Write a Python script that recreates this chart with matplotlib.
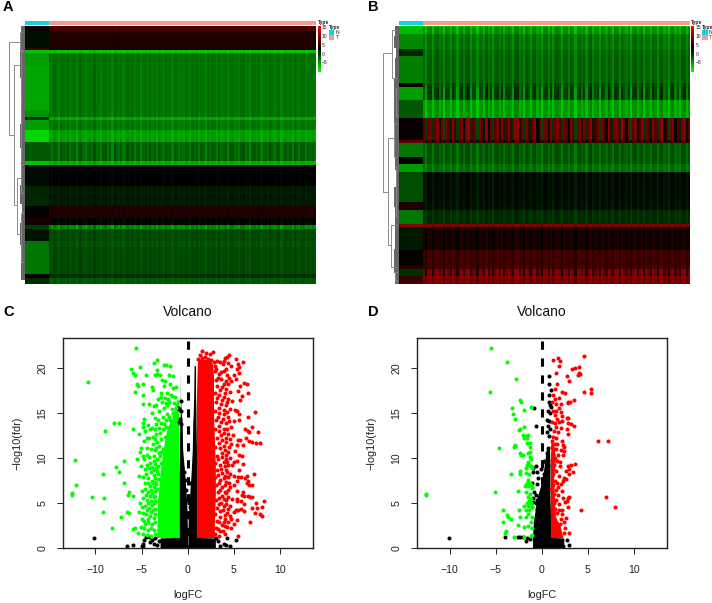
import numpy as np
import matplotlib
matplotlib.use('Agg')
import matplotlib.pyplot as plt
from matplotlib.colors import LinearSegmentedColormap
from matplotlib.patches import Rectangle

W, H = 712, 603
plt.rcParams['font.family'] = ['Liberation Sans', 'DejaVu Sans']

# heatmaps: row count of each band, then level of normal and tumour samples
a_rows = [6, 17, 2, 3, 13, 45, 7, 3, 10, 12, 20, 4, 21, 20, 12, 7, 4, 12, 7, 27, 4, 6]
a_norm = [3.5, 2.2, 6, -7, -5, -5.5, -4.5, 0.5, -5, -8, -1.5, -7, 2.4, 1, 3, 4, 0, 2, -3, -3, 3, 1]
a_tumor = [6.5, 4.6, 4, -7, -2.8, -2.9, -3, -5.5, -3.2, -5.2, -2.2, -6, 2.9, 1.6, 4.6, 2.6, -4, -0.8, -1.2, -0.8, 0.5, -1.5]
a_contrast = [.2, .2, .3, .8, .8, .9, .9, 1.2, 1.2, 1.2, 1.8, 1.2, .3, .5, .3, .6, 2.2, .8, .8, .7, .5, .8]
a_columns = [.2, -.4, .5, .1, -.7, .6, .2, -.2, .8, -.5, .1, .3, -.8, .4, .7, -.1, -.6, .2, .5, -.3,
             .9, -.2, .1, -.7, .3, .6, -.4, .2, -.9, .8, .1, -.3, .5, -.6, .3, .7, -.1, .4, -.5, .2,
             .6, -.8, .1, .4, -.3, .7, -.2, .3, -.6, .5, .1, -.4, .6, -.1, .3, -.7, .4, .2, -.5, .1,
             -.3, .5, .2, -.6, .4, -.1, .7, -.5, .3, .1, -.8, .6, -.2, .4, .2, -.6, .8, -.3, .1, .5,
             -.7, .3, .6, -.2, .1, -.5, .4, .7, -.4, .2, -.9, .5, .3, -.1, .6, -.6, .2, .4, -.3, .7,
             .1, -.5, .3, .6, -.7, .2, .5, -.2, .4, -.6, .8, .1, -.4, .3, .6, -.5, .2, -.1, .4, -.3]

b_rows = [2, 7, 15, 7, 27, 4, 13, 18, 22, 3, 13, 7, 8, 30, 8, 14, 3, 23, 15, 4, 7, 8]
b_norm = [-7, -6.5, -4, 1, -3.5, 4, -5, -1.5, 3.5, 8, -3, 3.5, -5, -1, 4.5, -3, 10, 1.8, 3.2, 5, 0.5, 6]
b_tumor = [-7, -5.2, -3.2, -2.6, -2.4, -1.8, -1.8, -5.4, 5.4, 5, -1.8, -1.8, -3, 2.2, 2, 0.6, 9.5, 4, 6, 6, 7.5, 9]
b_contrast = [2, 2, 1.4, 1.4, 1.4, 2, 3.5, 1.8, 6, 3, 1.4, 1.4, 1.2, .7, .8, .8, .4, .8, .8, 1, 3.5, 1.2]
b_columns = [.3, -.9, .5, .6, -.8, .4, .7, -.2, .5, -1, .6, .3, -.7, .8, .2, -.9, .5, .7, -.4, .6,
             .9, -.8, .3, .5, -1, .7, .2, -.6, .9, -.3, .5, -.9, .4, .6, -.2, .8, -.7, .3, .7, .1,
             -.8, .9, .8, -.3, .4, -.9, .6, .2, -.7, .5, .8, -.4, .3, -1, .6, .5, -.6, .7, -.8, .4,
             .7, .2, -.9, .6, .4, -.5, .8, .3, -1, .5, .7, -.2, .6, -.8, .4, .9, -.6, .2, .5, -.9,
             .7, .3, -.4, .8, .1, -.8, .6, .5, -.7, .9, .2, -.3, .6, -1, .4, .7, -.5, .3, .8, -.9,
             .5, .2, -.6, .7, .4, -.8, .6, .9, -.3, .2, -1, .5, .7, -.4, .3, -.7, .6, .8, -.6, .4]

legend_ticks = [15, 10, 5, 0, -5]
annot_colors = {'N': '#1ACFDC', 'T': '#F99A90'}

# dendrogram merges: height, top row, bottom row, height of top and bottom child
a_merges = [(16, 16, 111, 5, 11), (11, 40, 182, 3.5, 8.3), (8.3, 154, 211, 3.5, 4), (5, 6, 24, 2.5, 2.5),
            (3.5, 25, 137, 2, 2), (4, 190, 240, 2, 2), (3.5, 140, 170, 2, 2)]
b_merges = [(16.3, 27, 166, 7.3, 10.7), (7.3, 4, 52, 3, 3), (10.7, 112, 219, 4.7, 8), (8, 199, 241, 3, 3),
            (4.7, 97, 131, 2.5, 2.5), (3, 62, 90, 2, 2), (3, 140, 190, 2, 2), (3.5, 246, 255, 2, 2)]
fringe_rows = [0, 20, 24, 40, 65, 90, 110, 137, 150, 172, 190, 210, 235, 258]
a_fringe = [4, 3.5, 5, 4.5, 3, 4, 5, 4, 3.5, 4.5, 3, 5, 4, 3.5]
b_fringe = [4, 4.5, 3, 4, 4.5, 5, 4, 3.5, 3, 4.5, 4, 3.5, 5, 4]

# volcano C
c_green = [(-5.6, 22.3), (-10.8, 18.5), (-6.1, 19.9), (-5.9, 19.5), (-5.2, 20.1), (-5.7, 19.2), (-3.3, 20.9), (-3.7, 20.6),
           (-2.6, 20.4), (-2.3, 20.4), (-1.9, 20.2), (-3.3, 19.8), (-3.3, 19.4), (-4.5, 19.2), (-3.5, 19.2), (-3, 19.2),
           (-2.8, 18.7), (-2.5, 18.6), (-2, 19.3), (-1.6, 19.1), (-1.9, 18.2), (-1.6, 17.8), (-1.3, 17.9), (-5.5, 18.3),
           (-5.4, 18), (-4.9, 18.2), (-5.7, 17.4), (-3.9, 17.9), (-3.8, 17.6), (-4.9, 17), (-2.6, 18), (-2.9, 17.3),
           (-8, 13.9), (-7.5, 13.9), (-9, 13), (-12.2, 9.8), (-7.8, 9), (-7.4, 8.5), (-6.9, 9.7), (-9.2, 8.2), (-6.9, 7.3),
           (-12.1, 7), (-12.5, 6.1), (-12.6, 5.9), (-10.4, 5.7), (-9.1, 5.6), (-9.2, 4), (-7.2, 3.5), (-8.2, 2.2), (-6.6, 4),
           (-6.4, 3.9), (-6.4, 6.2), (-6.5, 5.9), (-5.9, 5.8), (-5.7, 2.2), (-5.9, 2.1), (-5.9, 13.3), (-5.3, 12.7),
           (-5.2, 10.7), (-4.8, 16), (-4.2, 16), (-3.7, 15.8), (-3.2, 16.6), (-2.9, 16.8), (-2.5, 16.7), (-2.1, 16.6),
           (-1.7, 16.9), (-1.4, 16.8), (-3.9, 15), (-4.7, 14.4), (-4.8, 13.9), (-4.9, 13.5), (-4.3, 13.7), (-3.6, 14.5),
           (-3.1, 15.3), (-2.6, 15.6), (-2.2, 15.9), (-1.7, 15.5), (-3.2, 14.2), (-2.7, 14.6), (-2.2, 14.9), (-1.9, 14.2),
           (-3.1, 13.4), (-2.7, 13.2), (-2.3, 13.5), (-4.6, 13), (-4.1, 13.3), (-3.9, 13.4), (-3.4, 12.7), (-4.2, 12.3),
           (-4.7, 11.9), (-5.1, 11.1), (-3.8, 11.6), (-3.3, 11.8), (-2.9, 12.1), (-2.5, 12.4), (-4.4, 11.1), (-3.6, 10.9),
           (-3.1, 10.6), (-2.7, 11), (-4.9, 10.2), (-4.7, 9.9), (-5.5, 9.9), (-4.2, 10.1), (-3.7, 9.7), (-3.3, 9.9),
           (-2.9, 9.5), (-5.1, 9.1), (-4.4, 9.2), (-3.9, 9), (-3.4, 8.9), (-4, 8.5), (-4.5, 8.3), (-5.3, 8), (-4.9, 7.9),
           (-3.7, 8.1), (-3.2, 8.3), (-4.3, 7.8), (-3.9, 7.5), (-3.5, 7.4), (-3.2, 7.7), (-4.6, 7.2), (-4.1, 6.9),
           (-3.7, 6.8), (-3.3, 6.6), (-5, 6.4), (-4.6, 6.6), (-4.3, 6.2), (-3.9, 6.1), (-3.5, 5.8), (-4.8, 5.6), (-4.4, 5.4),
           (-4, 5.3), (-3.7, 5), (-5.2, 5), (-5, 4.6), (-4.6, 4.7), (-4.2, 4.5), (-3.8, 4.3), (-5.3, 4), (-4.9, 3.9),
           (-4.5, 3.8), (-4.1, 3.6), (-3.6, 3.8), (-5, 3.3), (-4.7, 3), (-4.3, 2.9), (-3.9, 2.7), (-5.1, 2.4), (-4.7, 2.2),
           (-4.3, 2), (-5.4, 1.7), (-4.9, 1.6), (-4.4, 1.5), (-4, 1.4),
           (-1.8, 17), (-2.2, 17.2), (-2, 16.2), (-1.5, 16.1), (-2.4, 16.1), (-2.8, 16.2), (-3.4, 15.9), (-1.3, 15.6), (-1.6, 15),
           (-2, 14.6), (-2.4, 14.2), (-2.9, 13.9), (-3.4, 13.8), (-2.6, 13.8), (-3.6, 13.2), (-3.8, 12.4), (-3, 12.8), (-4.4, 12.2),
           (-3.5, 12.1), (-3.1, 11.4), (-4, 11), (-3.4, 11.1), (-2.9, 10.7), (-3.7, 10.3), (-4.4, 10.4), (-3, 10.2), (-4.1, 9.5),
           (-3.5, 9.4), (-3.2, 9.1), (-3.7, 8.7), (-4.2, 8.9), (-3.3, 8.6), (-4.6, 8.8), (-3.6, 7.8), (-3.4, 7.1), (-4.3, 7.3),
           (-3.8, 7.2), (-3.5, 6.4), (-4, 6.5), (-4.5, 5.9), (-3.7, 5.7), (-4.1, 5.8), (-3.5, 5.2), (-4.3, 5), (-3.9, 4.8),
           (-3.5, 4.4), (-4.4, 4.2), (-4, 4), (-3.7, 3.4), (-4.3, 3.3), (-3.6, 2.9), (-4, 2.3), (-3.7, 2), (-4.6, 2.7), (-3.6, 1.6)]
c_red = [(1.6, 21.9), (1.3, 21.5), (2, 21.7), (2.4, 21.6), (2.7, 21.8), (4.5, 21.5), (4.3, 21.2), (4, 21.1), (3.9, 20.8),
         (5.2, 21), (6, 20.7), (5.5, 20.5), (3.2, 20.8), (3.5, 20.7), (3.8, 20.5), (3, 20.3), (4.4, 20.6), (4.7, 20.2),
         (5.6, 20.1), (5.4, 19.9), (5.6, 19.5), (5, 19.3), (5.2, 18.8), (6.1, 18.4), (6.4, 18.2), (5.7, 18), (4.7, 18.6),
         (6.5, 17.2), (5.9, 16.9), (5.7, 16.5), (5.5, 17.5), (4.8, 16.4), (5.1, 15.4), (5.4, 15.3), (5.6, 14.9), (6.5, 14.6),
         (7.3, 15.1), (5.6, 14.2), (5, 14.1), (6.2, 13.2), (7, 13.5), (6.5, 13), (7.6, 12.9), (6.6, 12.9), (5.7, 12),
         (6.3, 12.2), (5.5, 12), (6.7, 11.9), (7, 11.8), (7.4, 11.7), (7.8, 11.7), (5.3, 11.5), (6, 11.5), (5.1, 10.8),
         (5.6, 10.4), (5.9, 10.2), (4.6, 10), (5, 9.6), (5.3, 9.7), (6, 9.4), (4.8, 9.3), (5.6, 8.7), (4.3, 8.5), (4.6, 8.2),
         (5, 8), (5.5, 7.9), (5.8, 7.9), (6.2, 7.8), (6.4, 8), (6.5, 7.5), (6.4, 7.2), (7, 7), (7.2, 8.2), (6.6, 7), (5.3, 7.5),
         (5, 7), (4.6, 6.8), (4.4, 6.5), (5.4, 6.4), (6, 6.2), (5.9, 5.9), (6.1, 5.8), (6.5, 5.8), (6.8, 5.7), (7, 5.7), (5.4, 5.5),
         (5.3, 5.2), (5.8, 5.3), (6.1, 4.9), (7.4, 5), (8.3, 5.3), (8.1, 4.6), (7.5, 4.5), (7, 4.5), (7.3, 3.9), (6.8, 2.9),
         (7.8, 3.8), (8.1, 3.6), (5.5, 4.3), (5.2, 4.2), (5.8, 4.4), (6.1, 4.1), (5, 4), (4.7, 3.3), (5.4, 3.1), (5, 2.7), (5.5, 1.4),
         (4.7, 2.2), (4, 2.5), (4, 1.6), (3, 19.7), (3.4, 19.4), (3.9, 19.7), (4.3, 19.3), (3.1, 18.7), (3.6, 18.8), (4.1, 18.6),
         (4.5, 18.9), (3.2, 18), (3.7, 17.9), (4.2, 17.7), (4.6, 17.4), (3, 17.2), (3.4, 17), (3.9, 16.8), (4.4, 16.6), (3.1, 16.2),
         (3.6, 16), (4.1, 15.9), (4.6, 15.5), (3, 15.3), (3.4, 15), (3.9, 14.9), (4.4, 14.6), (3.1, 14.2), (3.6, 14), (4.1, 13.9),
         (4.7, 13.5), (3, 13.3), (3.4, 13), (3.9, 12.8), (4.4, 12.7), (4.9, 12.6), (3.2, 12.2), (3.7, 12), (4.2, 11.8), (4.7, 11.6),
         (3, 11.3), (3.5, 11.1), (4, 10.9), (4.4, 10.7), (3.2, 10.3), (3.7, 10.1), (4.2, 9.9), (3, 9.5), (3.5, 9.3), (4, 9.1),
         (4.4, 9.3), (3.2, 8.7), (3.7, 8.4), (4, 8), (3, 7.9), (3.5, 7.6), (4.2, 7.4), (3.1, 7), (3.7, 6.8), (4, 6.3), (3.3, 6.2),
         (3.7, 5.8), (4.4, 5.7), (4.8, 5.5), (3.1, 5.4), (3.6, 5), (4.2, 4.9), (4.6, 4.7), (3.2, 4.5), (3.8, 4.2), (4.3, 3.9),
         (3, 3.8), (3.5, 3.5), (4, 3.2), (4.4, 2.9), (3.2, 3), (3.7, 2.6), (3.1, 2.3), (3.5, 1.9), (3, 1.6), (3.4, 1.4),
         (1.1, 21), (1.5, 21.1), (1.9, 21.2), (2.2, 21), (2.5, 20.9), (2.8, 20.7), (3.1, 19.9), (3.6, 19.6), (4.1, 19.9), (3.3, 18.9),
         (3.9, 18.3), (4.4, 18.2), (3.5, 17.6), (4, 17.3), (3.2, 16.7), (3.7, 16.5), (4.3, 16.2), (3.4, 15.6), (3.9, 15.4), (4.3, 15.1),
         (3.3, 14.6), (3.8, 14.4), (4.5, 14.1), (3.4, 13.6), (3.9, 13.3), (4.3, 13.2), (3.6, 12.6), (4.1, 12.3), (4.6, 12.1),
         (3.4, 11.7), (3.9, 11.4), (4.5, 11.2), (3.7, 10.6), (4.1, 10.4), (3.3, 9.9), (3.9, 9.6), (4.3, 9.6), (3.6, 8.8), (4.2, 8.7),
         (3.3, 8.1), (3.9, 7.8), (4.4, 7.9), (3.4, 7.2), (4, 7), (4.5, 7.3), (3.5, 6.5), (4.2, 6.1), (3.4, 5.6), (3.9, 5.5), (4.2, 5.4),
         (3.4, 4.9), (3.9, 4.7), (4.4, 4.4), (3.5, 4.1), (4, 3.7), (4.6, 3.6), (3.4, 2.9), (3.9, 2.9), (4.3, 2.4), (3.8, 1.9), (3.3, 2.1)]
c_black = [(-10.2, 1.1), (-6.6, 0.2), (-5.9, 0.4), (-5, 0.3), (-4.9, 0.5), (-4.7, 0.9), (-4.9, 0.2), (-4.5, 1.3), (-4.2, 1.2),
           (-4.1, 0.7), (-3.9, 0.9), (-3.7, 0.5), (-3.5, 1.1), (-3.3, 0.4), (-3.1, 0.8), (5.2, 0.9), (4.3, 1.1), (4.6, 0.2), (4.1, 0.4),
           (3.9, 0.5), (3.5, 0.2), (3.3, 0.8), (3.1, 1.1), (-1, 15.6), (-0.9, 15.5), (-1.1, 15.6), (-0.7, 15.2), (-0.8, 14.4),
           (-0.9, 14), (-0.7, 13.8), (-0.6, 9), (-0.4, 8.5), (-0.3, 7.6), (-0.7, 16.4), (-0.2, 6.5), (0.1, 5), (0.3, 7.3), (0.2, 4.6)]
c_black_rows = [0, 1.15, 1.2, 3, 5, 8, 11, 14, 15, 17, 20.3]
c_black_left = [-3, -3, -0.95, -0.95, -0.95, -0.95, -0.9, -0.85, -0.8, -0.8, -0.8]
c_black_mid = [-0.02, -0.02, -0.02, -0.05, -0.1, -0.3, -0.55, -0.6, -0.7, -0.78, -0.8]
c_black_mid_r = [0.02, 0.02, 0.02, 0.05, 0.15, 0.35, 0.5, 0.55, 0.6, 0.65, 0.7]
c_black_right = [3, 3, 0.95, 0.95, 0.95, 0.95, 0.95, 0.9, 0.9, 0.85, 0.85]
c_green_rows = [1.2, 3, 5, 7, 8.5, 10, 12, 13.5, 14.5, 16.5]
c_green_outer = [-3.4, -3.3, -3.3, -3.1, -3, -2.8, -2.5, -2.2, -1.7, -1.2]
c_red_rows = [1.2, 3, 6, 9, 12, 15, 17, 19, 20.5, 21]
c_red_outer = [2.9, 2.9, 3, 3, 2.9, 2.8, 2.8, 2.8, 2.7, 2.3]
c_red_inner = [0.95, 0.95, 0.95, 0.95, 0.95, 0.95, 0.95, 1, 1.05, 1.1]

# volcano D
d_green = [(-5.55, 22.3), (-3.75, 20.7), (-2.8, 18.8), (-5.65, 17.4), (-2.35, 16.5), (-2.25, 16.3), (-3.25, 15.6), (-3.15, 14.9),
           (-2.9, 14.4), (-1.9, 15.4), (-1.15, 15.7), (-1.95, 13.5), (-2.4, 13.2), (-2.5, 13.1), (-2.05, 12.6), (-1.7, 12.5), (-1.5, 12.6),
           (-1.6, 12.2), (-1.9, 12.3), (-4.65, 11.1), (-2.95, 11.4), (-3.05, 11.2), (-2.9, 11.5), (-1.6, 11.7), (-1.25, 11.7), (-1.3, 11.3),
           (-2.35, 10.6), (-2.05, 10.4), (-2.2, 10.4), (-1.5, 10.6), (-1.3, 10.7), (-1.25, 10.1), (-1.15, 9.9), (-1.5, 9.6), (-1.4, 9.3),
           (-1.2, 9.1), (-1.6, 9.2), (-1.1, 8.9), (-3.3, 8.3), (-2.3, 8.6), (-2.4, 8.2), (-1.7, 8.9), (-1.75, 8.4), (-1.4, 8.3),
           (-1.5, 7.6), (-1.6, 7.2), (-1.7, 7), (-1.4, 7.1), (-1.3, 7.2), (-1.2, 7), (-1.5, 6.9), (-1.8, 6.9), (-1.1, 6.8), (-1, 6.7),
           (-2.6, 6.4), (-5.1, 6.3), (-12.5, 6), (-12.5, 5.9), (-1.7, 6.2), (-1.3, 6), (-1.5, 5.7), (-1.2, 5.5), (-1.4, 5.2), (-1.6, 5),
           (-1.2, 5), (-1.5, 4.7), (-1.1, 4.6), (-1.9, 4.7), (-1.4, 4.3), (-1.7, 4.2), (-4.2, 4.3), (-2.5, 4.3), (-3.8, 3.7), (-3.7, 3.5),
           (-3.3, 3.3), (-4.2, 2.9), (-2.4, 3.5), (-1.7, 3.5), (-1.5, 3.8), (-1, 3.5), (-1.2, 2.9), (-2.6, 2.6), (-1.9, 2.4), (-1.5, 2.5),
           (-1.1, 2.3), (-3.9, 1.9), (-4, 1.7), (-3, 1.3), (-1.2, 1.4), (-1, 1.5), (-1.9, 1.3)]
d_red = [(4.6, 21.4), (1.8, 21.1), (1.2, 20.9), (2, 20.8), (1.9, 20.2), (3.3, 19.9), (3.6, 20), (4, 20.1), (1.6, 19.5), (4, 19.5),
         (4.2, 19.4), (3.9, 19.3), (2.7, 19.1), (3, 18.6), (1.7, 18.2), (1.4, 17.7), (5.4, 17.7), (4.6, 17.4), (5.4, 17.2), (2.2, 17.4),
         (2.5, 17.2), (1.2, 17), (1.4, 16.6), (1.9, 16.7), (3.5, 16.5), (2.8, 16.3), (3.1, 16.3), (2.8, 16.1), (1.1, 16.2), (1.6, 16),
         (2.1, 16), (1.9, 15.6), (1.2, 15.3), (1.6, 15.2), (2.1, 15.1), (1.4, 14.8), (2.2, 14.7), (2.7, 14.5), (2.9, 14.5), (1.7, 14.4),
         (2.2, 14.1), (1.9, 14), (1.4, 13.9), (2.9, 13.9), (3.2, 13.8), (3.5, 13.6), (1.1, 14), (1.6, 13.5), (2.1, 13.4), (2.7, 13.3),
         (1.3, 13), (1.8, 12.9), (2.8, 12.7), (6.1, 11.9), (7.2, 11.9), (1.2, 12.4), (1.5, 12.2), (1.1, 11.9), (2.2, 11.9), (1.4, 11.6),
         (1.7, 11.6), (2.3, 11.5), (1.1, 11.3), (2.4, 11.2), (1.3, 11), (1.6, 11), (2.1, 10.9), (2.4, 10.8), (1.2, 10.5), (1.8, 10.4),
         (2.3, 10.4), (1.4, 10), (1.1, 9.8), (1.7, 9.7), (2, 9.6), (3.2, 9.3), (3.6, 9.4), (1.3, 9.3), (2, 9.1), (2.9, 9.1), (3, 8.8),
         (1.2, 8.8), (1.6, 8.6), (2.6, 8.6), (3.4, 8.5), (3, 8.3), (1.2, 8.2), (1.9, 8), (2.4, 7.8), (2.3, 7.5), (2.6, 7.7), (1.4, 7.5),
         (1.7, 7.2), (2.1, 7.1), (1.2, 7), (1.8, 6.8), (1, 6.6), (1.5, 6.5), (2.2, 6.4), (1.3, 6), (1.8, 5.9), (2.3, 5.6), (2.8, 5.6),
         (7, 5.7), (3, 5.7), (1.1, 5.5), (1.6, 5.4), (2.5, 5.1), (2.7, 5.3), (1.3, 5), (1.9, 4.9), (7.9, 4.6), (2.8, 4.6), (4.3, 4.2),
         (1.4, 4.4), (1.9, 4.2), (2.2, 4.3), (1.1, 4), (1.7, 3.9), (2.2, 3.8), (2.6, 3.4), (2.1, 3.2), (2.4, 2.9), (2, 2.7), (2.5, 2.3),
         (3, 1.7), (2.4, 1.7)]
d_black = [(-10.1, 1.1), (-4, 1.2), (-2.6, 1.3), (-2.4, 1.2), (-2, 1.2), (-1.6, 1.1), (-1.7, 0.8), (-1.3, 1), (3, 0.4), (2.7, 0.9),
           (2.3, 0.2), (-0.8, 15.6), (-0.6, 13.6), (0.8, 19.1), (0.8, 18.3), (1, 17.6), (0.8, 17), (0.8, 16.2), (0.9, 15.9), (1, 15.7),
           (0.7, 15.2), (0.9, 15), (0.6, 14.2), (0.8, 14.1), (0.7, 13.6), (0.9, 13.3), (0.6, 12.9), (0.8, 12.5), (0.7, 11.1), (0.6, 10.6),
           (0.3, 9.7), (0.5, 9.5), (0.7, 9.3), (-0.6, 9.1), (-0.9, 8.9), (-0.1, 8.8), (-0.9, 8.5), (-0.5, 8.5), (0.5, 8.2), (0.2, 8.3),
           (-0.4, 7.8), (0.4, 7.7), (0.6, 7.3), (-1, 7.3), (-0.5, 7.1), (0.4, 6.9), (-0.8, 6.3), (0.3, 6.1), (-0.6, 5.9), (-0.9, 5.6),
           (-0.5, 5.4), (-0.2, 5.7), (-0.9, 5.1), (-0.6, 5), (-0.2, 5.2), (0.3, 5.3), (-1, 4.6), (-0.5, 4.4)]
d_black_rows = [0, 1.15, 1.2, 3, 4, 5.5, 7, 9, 11]
d_black_left = [-1, -1, -1, -0.9, -0.75, -0.55, -0.1, 0.25, 0.5]
d_black_right = [2.4, 2.4, 0.95, 0.95, 0.95, 0.9, 0.9, 0.9, 0.85]
d_red_rows = [1.2, 2.5, 3.5, 5, 8, 10, 12]
d_red_outer = [2.3, 2, 1.5, 1.4, 1.3, 1.5, 1.2]
d_red_inner = [0.95, 0.95, 0.95, 0.95, 0.95, 0.95, 1]

x_ticks = [-10, -5, 0, 5, 10]
y_ticks = [0, 5, 10, 15, 20]

heat_cmap = LinearSegmentedColormap.from_list('gbr', ['#00FF00', '#000000', '#FF0000'])


def px_axes(fig, left, top, right, bottom):
    return fig.add_axes([left / W, 1 - bottom / H, (right - left) / W, (bottom - top) / H])


def px_text(fig, x, y, s, **kw):
    kw.setdefault('ha', 'center')
    kw.setdefault('va', 'center')
    fig.text(x / W, 1 - y / H, s, **kw)


def heatmap(fig, left, right, split, rows, norm, tumor, contrast, columns, merges, fringe):
    matrix = []
    for count, n, t, c in zip(rows, norm, tumor, contrast):
        line = [n] + [t + c * v for v in columns]
        matrix += [line] * count
    matrix = np.array(matrix)
    ax = px_axes(fig, left, 26, right, 284)
    n_width = (split - left) / (right - left)
    ax.imshow(matrix[:, 1:], cmap=heat_cmap, vmin=-10, vmax=16, aspect='auto', interpolation='nearest',
              extent=(n_width, 1, len(matrix), 0))
    ax.imshow(matrix[:, :1], cmap=heat_cmap, vmin=-10, vmax=16, aspect='auto', interpolation='nearest',
              extent=(0, n_width, len(matrix), 0))
    ax.set_xlim(0, 1)
    ax.set_ylim(len(matrix), 0)
    ax.axis('off')

    top = px_axes(fig, left, 21, right, 25)
    top.add_patch(Rectangle((0, 0), n_width, 1, color=annot_colors['N'], lw=0))
    top.add_patch(Rectangle((n_width, 0), 1 - n_width, 1, color=annot_colors['T'], lw=0))
    top.set_xlim(0, 1)
    top.set_ylim(0, 1)
    top.axis('off')

    den = px_axes(fig, left - 17, 26, left - 0.3, 284)
    den.set_xlim(17, 0)
    den.set_ylim(len(matrix), 0)
    den.axis('off')
    den.fill_betweenx(fringe_rows, 0, fringe, color='#666666', lw=0, step='mid')
    for h, r0, r1, h0, h1 in merges:
        den.plot([h0, h, h, h1], [r0, r0, r1, r1], color='#8a8a8a', lw=0.7)

    bar = px_axes(fig, right + 1.5, 26, right + 4.5, 72)
    bar.imshow(np.linspace(1, 0, 100)[:, None], cmap=heat_cmap, aspect='auto', extent=(0, 1, -10, 16))
    bar.axis('off')
    for tick in legend_ticks:
        px_text(fig, right + 6, 54 - tick * 1.75, str(tick).replace('-', '\u2212'), fontsize=3.6, ha='left', color='#222222')
    px_text(fig, right + 1.5, 22.5, 'Type', fontsize=3.6, ha='left', color='#222222', fontweight='bold')
    px_text(fig, right + 12.5, 27, 'Type', fontsize=3.6, ha='left', color='#222222', fontweight='bold')
    for y0, name in [(30, 'N'), (35, 'T')]:
        fig.patches.append(Rectangle(((right + 12.5) / W, 1 - (y0 + 5) / H), 5.5 / W, 5 / H, transform=fig.transFigure,
                                     color=annot_colors[name], lw=0))
        px_text(fig, right + 19.5, y0 + 2.5, name, fontsize=3.6, ha='left', color='#222222')


def volcano(fig, left, right, center, title, green, red, black, cores):
    ax = px_axes(fig, left, 338.3, right, 548.3)
    ax.set_xlim((left - center) / 9.22, (right - center) / 9.22)
    ax.set_ylim(0, 23.33)
    for rows, x0, x1, color in cores:
        ax.fill_betweenx(rows, x0, x1, color=color, lw=0)
    for points, color in [(black, 'black'), (green, '#00FF00'), (red, '#FF0000')]:
        pts = np.array(points)
        ax.scatter(pts[:, 0], pts[:, 1], s=8.5, color=color, linewidths=0, clip_on=False)
    ax.plot([0, 0], [23, 0], color='black', lw=2.2, dashes=(2.7, 2.85), dash_capstyle='butt')
    ax.set_xticks(x_ticks)
    ax.set_yticks(y_ticks)
    ax.tick_params(length=4.2, width=0.7, labelsize=7.6, pad=8, color='#222222', labelcolor='#222222')
    ax.tick_params(axis='y', labelrotation=90, pad=7)
    for label in ax.get_yticklabels():
        label.set_va('center')
    for spine in ax.spines.values():
        spine.set_linewidth(1)
        spine.set_color('#222222')
    px_text(fig, center, 311.7, title, fontsize=10, color='#111111')
    px_text(fig, center, 595.5, 'logFC', fontsize=7.8, color='#222222')
    px_text(fig, left - 45.5, 443, '\u2212log10(fdr)', fontsize=7.8, rotation=90, color='#222222')


def main() -> None:
    fig = plt.figure(figsize=(W / 100, H / 100), dpi=100)

    heatmap(fig, 25, 316, 49, a_rows, a_norm, a_tumor, a_contrast, a_columns, a_merges, a_fringe)
    heatmap(fig, 399, 689.5, 423, b_rows, b_norm, b_tumor, b_contrast, b_columns, b_merges, b_fringe)

    c_cores = [(c_black_rows, c_black_left, c_black_mid, 'black'),
               (c_black_rows, c_black_mid_r, c_black_right, 'black'),
               (c_green_rows, c_green_outer, [-0.95] * len(c_green_rows), '#00FF00'),
               (c_red_rows, c_red_inner, c_red_outer, '#FF0000')]
    volcano(fig, 62.7, 313, 187.7, 'Volcano', c_green, c_red, c_black, c_cores)

    d_cores = [(d_black_rows, d_black_left, d_black_right, 'black'),
               (d_red_rows, d_red_inner, d_red_outer, '#FF0000')]
    volcano(fig, 417, 667.3, 541.7, 'Volcano', d_green, d_red, d_black, d_cores)

    for x, y, letter in [(3, 7, 'A'), (368, 7, 'B'), (3, 312.5, 'C'), (368, 312.5, 'D')]:
        px_text(fig, x, y, letter, fontsize=10.5, fontweight='bold', ha='left')

    fig.savefig('out.png', dpi=100)


if __name__ == '__main__':
    main()
